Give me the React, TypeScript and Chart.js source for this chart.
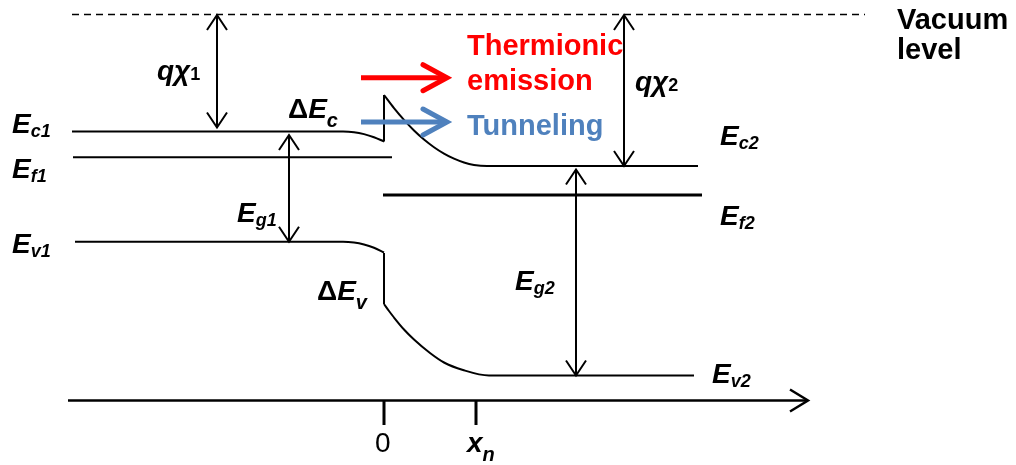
import React, { useEffect, useRef } from "react";
import { Chart, registerables } from "chart.js";

Chart.register(...registerables);

// Diagram coordinates: x = position (junction at 0), y = electron energy (arbitrary units)
const X_MIN = -38.4;
const X_MAX = 63.2;
const Y_MIN = -6.45;
const Y_MAX = 40.05;

// Vacuum level
const vacuumX = [-31.2, 48.1];
const vacuumY = [38.6, 38.6];

// Conduction band, side 1 (flat then bending at the junction)
const ec1X = [-31.2, -4.1, -3, -2, -1, 0];
const ec1Y = [26.9, 26.9, 26.83, 26.64, 26.33, 25.9];
// Conduction band offset (spike)
const dEcX = [0, 0];
const dEcY = [25.9, 30.55];
// Conduction band, side 2
const ec2X = [0, 1, 2, 3, 4, 5, 6, 7, 8, 9, 10.3, 31.4];
const ec2Y = [30.55, 29.24, 28.06, 27.0, 26.1, 25.33, 24.69, 24.18, 23.8, 23.56, 23.45, 23.45];

// Fermi levels
const ef1X = [-31.1, 0.8];
const ef1Y = [24.32, 24.32];
const ef2X = [-0.1, 31.8];
const ef2Y = [20.55, 20.55];

// Valence band, side 1
const ev1X = [-30.9, -4.1, -3, -2, -1, 0];
const ev1Y = [15.88, 15.88, 15.8, 15.6, 15.27, 14.8];
// Valence band offset
const dEvX = [0, 0];
const dEvY = [14.75, 9.65];
// Valence band, side 2
const ev2X = [0, 0.5, 1, 2, 3, 4.6, 6, 7.9, 10.5, 31.0];
const ev2Y = [9.65, 8.95, 8.3, 7.1, 6.1, 4.75, 3.8, 3.05, 2.5, 2.5];

// Position axis and its ticks
const axisX = [-31.6, 42.4];
const axisY = [0, 0];
const tickX = [0, 9.2];
const tickLen = [0, -2.45];

// Double-headed energy arrows: qχ1, Eg1, qχ2, Eg2
const dblArrowX = [-16.7, -9.5, 24.0, 19.2];
const dblArrowTop = [38.55, 26.55, 38.55, 23.1];
const dblArrowBottom = [27.3, 15.88, 23.45, 2.5];

// Transport arrows: thermionic emission, tunneling
const flowArrowY = [32.28, 27.85];
const flowArrowFrom = [-2.3, -2.3];
const flowArrowTo = [6.3, 6.3];

// Text labels: segments [text, style]
const labelParts: [string, string][][] = [
  [["E", "main"], ["c1", "sub"]],
  [["E", "main"], ["f1", "sub"]],
  [["E", "main"], ["v1", "sub"]],
  [["E", "main"], ["g1", "sub"]],
  [["q", "main"], ["χ", "main"], ["1", "num"]],
  [["Δ", "up"], ["E", "main"], ["c", "low"]],
  [["Δ", "up"], ["E", "main"], ["v", "low"]],
  [["Thermionic", "red"]],
  [["emission", "red"]],
  [["Tunneling", "blue"]],
  [["q", "main"], ["χ", "main"], ["2", "num"]],
  [["E", "main"], ["g2", "sub"]],
  [["E", "main"], ["c2", "sub"]],
  [["E", "main"], ["f2", "sub"]],
  [["E", "main"], ["v2", "sub"]],
  [["Vacuum", "plain"]],
  [["level", "plain"]],
  [["0", "zero"]],
  [["x", "main"], ["n", "low"]],
];
const labelX = [-37.2, -37.2, -37.2, -14.7, -22.7, -9.6, -6.7, 8.3, 8.3, 8.3, 25.1, 13.1, 33.6, 33.6, 32.8, 51.3, 51.3, -0.9, 8.3];
const labelY = [26.8, 22.25, 14.75, 17.85, 32.05, 28.25, 10.05, 34.55, 31.05, 26.6, 30.95, 11.05, 25.55, 17.55, 1.75, 37.15, 34.15, -5.15, -5.15];

const FF = '"Liberation Sans", Arial, Helvetica, sans-serif';
const STYLES: Record<string, { font: string; dy: number; color: string }> = {
  main: { font: `italic bold 28px ${FF}`, dy: 0, color: "#000" },
  sub: { font: `italic bold 18px ${FF}`, dy: 4, color: "#000" },
  low: { font: `italic bold 20px ${FF}`, dy: 9, color: "#000" },
  num: { font: `bold 18px ${FF}`, dy: 0, color: "#000" },
  up: { font: `bold 28px ${FF}`, dy: 0, color: "#000" },
  plain: { font: `bold 29px ${FF}`, dy: 0, color: "#000" },
  zero: { font: `28px ${FF}`, dy: 0, color: "#000" },
  red: { font: `bold 29px ${FF}`, dy: 0, color: "#ff0000" },
  blue: { font: `bold 29px ${FF}`, dy: 0, color: "#4f81bd" },
};

function series(xs: number[], ys: number[], extra: any = {}) {
  return {
    data: xs.map((x, i) => ({ x, y: ys[i] })),
    borderColor: "#000",
    borderWidth: 2,
    pointRadius: 0,
    fill: false,
    tension: 0,
    clip: false,
    ...extra,
  };
}

function drawHead(ctx: CanvasRenderingContext2D, tx: number, ty: number, fx: number, fy: number, len: number, half: number) {
  const dx = tx - fx;
  const dy = ty - fy;
  const d = Math.hypot(dx, dy) || 1;
  const ux = dx / d;
  const uy = dy / d;
  const nx = -uy;
  const ny = ux;
  ctx.beginPath();
  ctx.moveTo(tx - ux * len + nx * half, ty - uy * len + ny * half);
  ctx.lineTo(tx, ty);
  ctx.lineTo(tx - ux * len - nx * half, ty - uy * len - ny * half);
  ctx.stroke();
}

const overlayPlugin = {
  id: "bandOverlay",
  afterDatasetsDraw(chart: any) {
    const ctx: CanvasRenderingContext2D = chart.ctx;
    const xs = chart.scales.x;
    const ys = chart.scales.y;
    const px = (v: number) => xs.getPixelForValue(v);
    const py = (v: number) => ys.getPixelForValue(v);
    ctx.save();
    ctx.lineCap = "butt";
    ctx.lineJoin = "miter";

    // double arrows
    ctx.strokeStyle = "#000";
    ctx.lineWidth = 2;
    dblArrowX.forEach((x, i) => {
      const X = px(x);
      const T = py(dblArrowTop[i]);
      const B = py(dblArrowBottom[i]);
      ctx.beginPath();
      ctx.moveTo(X, T);
      ctx.lineTo(X, B);
      ctx.stroke();
      drawHead(ctx, X, T, X, B, 15, 10);
      drawHead(ctx, X, B, X, T, 15, 10);
    });

    // axis arrow head
    ctx.lineWidth = 2.5;
    drawHead(ctx, px(axisX[1]), py(axisY[1]), px(axisX[0]), py(axisY[0]), 18, 11);

    // transport arrows
    const flowColors = ["#ff0000", "#4f81bd"];
    flowArrowY.forEach((y, i) => {
      const Y = py(y);
      const A = px(flowArrowFrom[i]);
      const Bx = px(flowArrowTo[i]);
      ctx.strokeStyle = flowColors[i];
      ctx.lineWidth = 5;
      ctx.beginPath();
      ctx.moveTo(A, Y);
      ctx.lineTo(Bx - 3, Y);
      ctx.stroke();
      ctx.lineCap = "round";
      drawHead(ctx, Bx, Y, A, Y, 24, 13);
      ctx.lineCap = "butt";
    });

    // labels
    ctx.textBaseline = "alphabetic";
    ctx.textAlign = "left";
    labelParts.forEach((parts, i) => {
      let X = px(labelX[i]);
      const Y = py(labelY[i]);
      parts.forEach(([t, s]) => {
        const st = STYLES[s];
        ctx.font = st.font;
        ctx.fillStyle = st.color;
        ctx.fillText(t, X, Y + st.dy);
        X += ctx.measureText(t).width;
      });
    });
    ctx.restore();
  },
};

export default function App() {
  const ref = useRef<HTMLCanvasElement>(null);
  useEffect(() => {
    if (!ref.current) return;
    const mono = { cubicInterpolationMode: "monotone" };
    const chart = new Chart(ref.current, {
      type: "line",
      data: {
        datasets: [
          series(vacuumX, vacuumY, { borderWidth: 1.5, borderDash: [7, 5] }),
          series(ec1X, ec1Y, mono),
          series(dEcX, dEcY),
          series(ec2X, ec2Y, mono),
          series(ef1X, ef1Y),
          series(ef2X, ef2Y, { borderWidth: 3 }),
          series(ev1X, ev1Y, mono),
          series(dEvX, dEvY),
          series(ev2X, ev2Y, mono),
          series(axisX, axisY, { borderWidth: 2.5 }),
          series([tickX[0], tickX[0]], tickLen, { borderWidth: 3 }),
          series([tickX[1], tickX[1]], tickLen, { borderWidth: 3 }),
        ] as any,
      },
      options: {
        animation: false,
        responsive: false,
        maintainAspectRatio: false,
        events: [],
        layout: { padding: 0 },
        plugins: { legend: { display: false }, tooltip: { enabled: false } },
        scales: {
          x: { type: "linear", min: X_MIN, max: X_MAX, display: false },
          y: { type: "linear", min: Y_MIN, max: Y_MAX, display: false },
        },
      },
      plugins: [overlayPlugin],
    });
    return () => chart.destroy();
  }, []);
  return (
    <div style={{ position: "fixed", left: 0, top: 0, width: 1016, height: 465, background: "#fff" }}>
      <canvas ref={ref} width={1016} height={465} style={{ display: "block" }} />
    </div>
  );
}
